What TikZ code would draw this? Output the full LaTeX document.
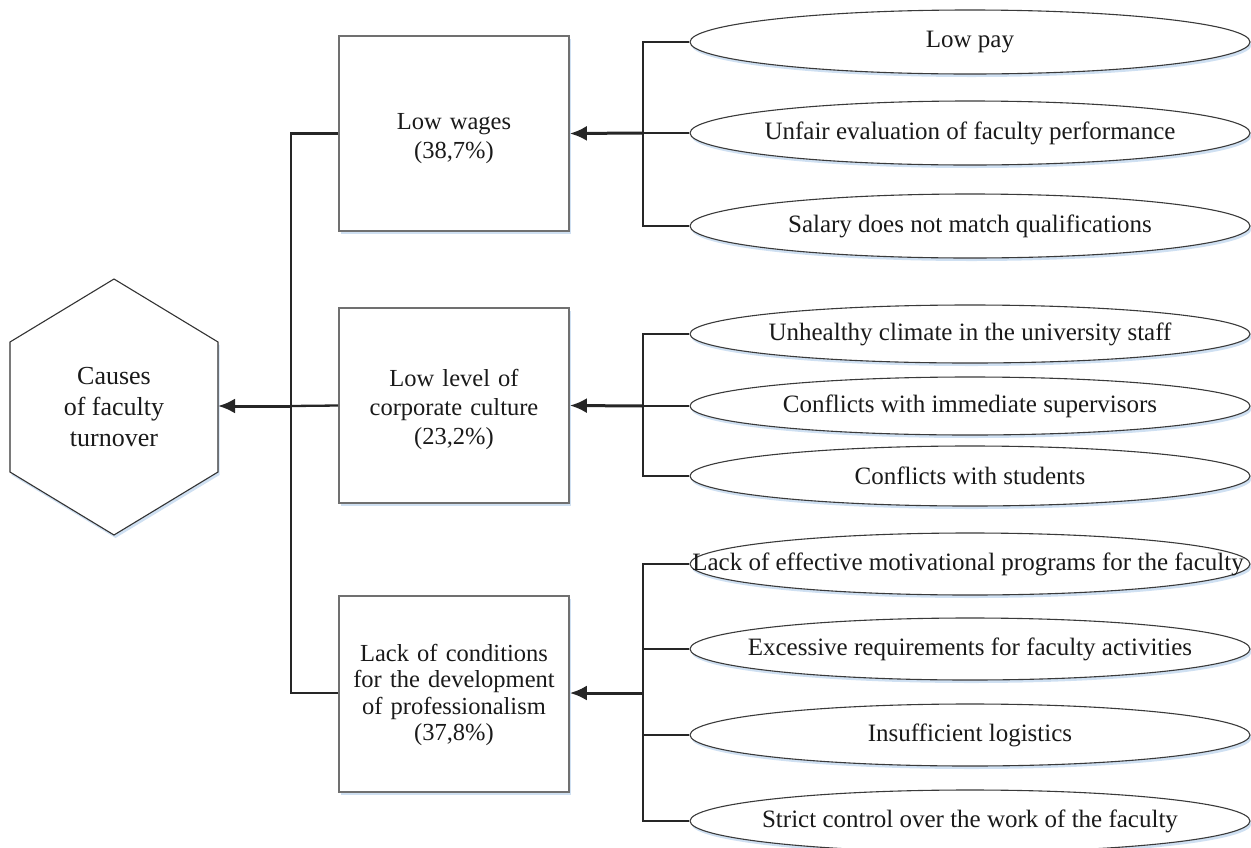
\documentclass[tikz,border=0pt]{standalone}
\usepackage{fontspec}
\setmainfont{Liberation Serif}
\usetikzlibrary{shapes.geometric,arrows.meta,shadows}
\definecolor{shadowblue}{HTML}{CFE0F2}
\definecolor{boxgray}{HTML}{707070}
\definecolor{ellgray}{HTML}{3A3A3A}
\definecolor{txt}{HTML}{1A1A1A}
\tikzset{
  shad/.style={drop shadow={shadow xshift=1.5pt,shadow yshift=-3pt,fill=shadowblue,opacity=1}},
  causebox/.style={draw=boxgray,line width=1.6pt,fill=white,shad,minimum width=230pt,minimum height=195pt,inner sep=0pt},
  boxtext/.style={text width=224pt,align=center,text=txt,inner sep=0pt,font=\fontsize{24.5}{29}\selectfont},
  reason/.style={ellipse,draw=ellgray,line width=1.1pt,fill=white,shad,minimum width=560pt,inner sep=0pt},
  rtext/.style={text=txt,font=\fontsize{25}{28}\selectfont,inner sep=0pt},
  bracket/.style={draw=black!85,line width=2.3pt},
  arrowline/.style={draw=black!85,line width=3pt,-{Latex[length=17pt,width=15pt]}},
}
\begin{document}
\begin{tikzpicture}[x=1pt,y=-1pt]
\useasboundingbox (0,0) rectangle (1251,847);
% hexagon
\path[draw=black!80,line width=1.1pt,fill=white,shad]
  (114,279) -- (218,342) -- (218,472) -- (114,535) -- (10,472) -- (10,342) -- cycle;
\node[align=center,text=txt,font=\fontsize{26}{31}\selectfont] (hex) at (114,407) {Causes\\of faculty\\turnover};
\coordinate (hexE) at (218,406);
% boxes
\node[causebox] (b1) at (454,133.5) {};
\node[causebox] (b2) at (454,405.5) {};
\node[causebox,minimum height=196pt] (b3) at (454,694) {};
\node[boxtext] (bt1) at (454,139) {Low wages\\(38,7\%)};
\node[boxtext] (bt2) at (454,409) {Low level of\\corporate culture\\(23,2\%)};
\node[boxtext,font=\fontsize{24.5}{26.3}\selectfont] (bt3) at (454,695) {Lack of conditions\\for the development\\of professionalism\\(37,8\%)};
% ellipses
\node[reason,minimum height=64pt] (e1) at (970,42) {};
\node[reason,minimum height=64pt] (e2) at (970,133) {};
\node[reason,minimum height=64pt] (e3) at (970,226) {};
\node[reason,minimum height=58pt] (e4) at (970,334) {};
\node[reason,minimum height=58pt] (e5) at (970,406) {};
\node[reason,minimum height=60pt] (e6) at (970,476) {};
\node[reason,minimum height=62pt] (e7) at (970,564) {};
\node[reason,minimum height=62pt] (e8) at (970,649) {};
\node[reason,minimum height=62pt] (e9) at (970,735) {};
\node[reason,minimum height=62pt] (e10) at (970,821) {};
\node[rtext] (t1) at (e1) {Low pay};
\node[rtext] (t2) at (e2) {Unfair evaluation of faculty performance};
\node[rtext] (t3) at (e3) {Salary does not match qualifications};
\node[rtext] (t4) at (e4) {Unhealthy climate in the university staff};
\node[rtext] (t5) at (e5) {Conflicts with immediate supervisors};
\node[rtext] (t6) at (e6) {Conflicts with students};
\node[rtext] (t7) at (968,564) {Lack of effective motivational programs for the faculty};
\node[rtext] (t8) at (e8) {Excessive requirements for faculty activities};
\node[rtext] (t9) at (e9) {Insufficient logistics};
\node[rtext] (t10) at (e10) {Strict control over the work of the faculty};
% junctions
\coordinate (j1) at (643,133);
\coordinate (j2) at (643,406);
\coordinate (j3) at (643,693);
\coordinate (m) at (291,406);
% group 1
\draw[bracket] (e1.west) -| (j1) |- (e3.west);
\draw[bracket] (e2.west) -- (j1);
\draw[arrowline] (j1) -- (b1.east);
% group 2
\draw[bracket] (e4.west) -| (j2) |- (e6.west);
\draw[bracket] (e5.west) -- (j2);
\draw[arrowline] (j2) -- (b2.east);
% group 3
\draw[bracket] (e7.west) -| (j3) |- (e10.west);
\draw[bracket] (e8.west) -- (e8.west -| j3);
\draw[bracket] (e9.west) -- (e9.west -| j3);
\draw[arrowline] (j3) -- (j3 -| b3.east);
% main
\draw[bracket] (b1.west) -| (m) |- (j3 -| b3.west);
\draw[bracket] (b2.west) -- (m);
\draw[arrowline] (m) -- (hexE);
\end{tikzpicture}
\end{document}
